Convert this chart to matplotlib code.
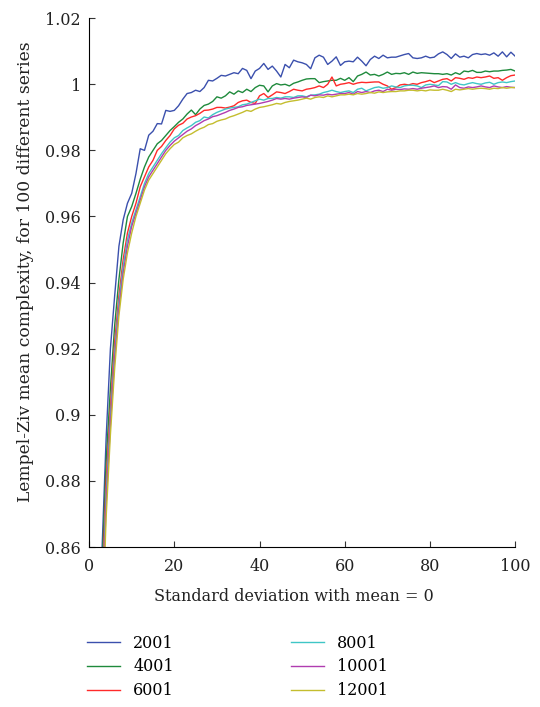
import matplotlib
matplotlib.use("Agg")
import matplotlib.pyplot as plt

# standard deviation (x) and mean LZ complexity for each series length
stdDev = list(range(3, 101))

labels = ["2001", "4001", "6001", "8001", "10001", "12001"]
colors = ["#3b50ad", "#1f8a3c", "#ff2a2a", "#3fc6c6", "#b03cb0", "#c4bd2e"]

lz2001 = [0.858, 0.893, 0.920, 0.936, 0.951, 0.959, 0.964, 0.967, 0.973, 0.9805,
          0.9800, 0.9846, 0.9858, 0.9881, 0.9880, 0.9921, 0.9918, 0.9921, 0.9935, 0.9955,
          0.9972, 0.9975, 0.9982, 0.9978, 0.9990, 1.0012, 1.0010, 1.0018, 1.0027, 1.0025,
          1.0030, 1.0035, 1.0032, 1.0048, 1.0042, 1.0017, 1.0040, 1.0048, 1.0063, 1.0045,
          1.0055, 1.0040, 1.0022, 1.0060, 1.0050, 1.0073, 1.0068, 1.0065, 1.0060, 1.0047,
          1.0080, 1.0088, 1.0082, 1.0060, 1.0070, 1.0083, 1.0057, 1.0068, 1.0070, 1.0068,
          1.0082, 1.0070, 1.0056, 1.0075, 1.0085, 1.0078, 1.0088, 1.0080, 1.0082, 1.0082,
          1.0086, 1.0090, 1.0093, 1.0080, 1.0078, 1.0080, 1.0085, 1.0080, 1.0082, 1.0092,
          1.0098, 1.0090, 1.0078, 1.0092, 1.0082, 1.0085, 1.0080, 1.0090, 1.0093, 1.0090,
          1.0092, 1.0088, 1.0095, 1.0085, 1.0098, 1.0083, 1.0097, 1.0085]

lz4001 = [0.852, 0.886, 0.908, 0.927, 0.941, 0.952, 0.960, 0.963, 0.967, 0.9713,
          0.9750, 0.9780, 0.9800, 0.9820, 0.9830, 0.9845, 0.9860, 0.9872, 0.9885, 0.9895,
          0.9910, 0.9922, 0.9908, 0.9925, 0.9936, 0.9940, 0.9948, 0.9962, 0.9958, 0.9965,
          0.9977, 0.9970, 0.9980, 0.9975, 0.9985, 0.9978, 0.9990, 0.9997, 0.9995, 0.9977,
          0.9995, 1.0002, 0.9998, 1.0000, 0.9995, 1.0003, 1.0007, 1.0012, 1.0016, 1.0017,
          1.0017, 1.0005, 1.0008, 1.0010, 1.0012, 1.0012, 1.0018, 1.0012, 1.0020, 1.0008,
          1.0025, 1.0030, 1.0037, 1.0028, 1.0030, 1.0025, 1.0030, 1.0037, 1.0030, 1.0033,
          1.0032, 1.0035, 1.0030, 1.0037, 1.0033, 1.0035, 1.0034, 1.0033, 1.0032, 1.0032,
          1.0030, 1.0032, 1.0028, 1.0035, 1.0030, 1.0040, 1.0038, 1.0042, 1.0036, 1.0036,
          1.0040, 1.0038, 1.0040, 1.0040, 1.0042, 1.0043, 1.0045, 1.0040]

lz6001 = [0.845, 0.880, 0.902, 0.922, 0.936, 0.947, 0.955, 0.960, 0.964, 0.969,
          0.972, 0.975, 0.977, 0.980, 0.9812, 0.9830, 0.9845, 0.9865, 0.9876, 0.9882,
          0.9895, 0.9901, 0.9905, 0.9912, 0.9921, 0.9922, 0.9925, 0.9930, 0.9930, 0.9928,
          0.9931, 0.9935, 0.9945, 0.9950, 0.9952, 0.9945, 0.9942, 0.9965, 0.9972, 0.9960,
          0.9968, 0.9977, 0.9975, 0.9972, 0.9978, 0.9985, 0.9982, 0.9980, 0.9985, 0.9987,
          0.9990, 0.9995, 0.9990, 1.0000, 1.0022, 0.9995, 1.0000, 1.0002, 1.0005, 1.0000,
          1.0004, 1.0006, 1.0005, 1.0006, 1.0007, 1.0007, 1.0000, 0.9995, 0.9985, 0.9990,
          0.9998, 1.0000, 0.9998, 1.0002, 1.0000, 1.0005, 1.0008, 1.0012, 1.0005, 1.0010,
          1.0015, 1.0017, 1.0010, 1.0020, 1.0018, 1.0015, 1.0020, 1.0018, 1.0022, 1.0020,
          1.0022, 1.0025, 1.0018, 1.0020, 1.0012, 1.0020, 1.0026, 1.0028]

lz8001 = [0.840, 0.876, 0.899, 0.919, 0.934, 0.945, 0.953, 0.958, 0.962, 0.966,
          0.970, 0.973, 0.975, 0.977, 0.979, 0.9808, 0.9825, 0.9838, 0.9845, 0.9860,
          0.9868, 0.9875, 0.9885, 0.9890, 0.9901, 0.9898, 0.9908, 0.9915, 0.9920, 0.9925,
          0.9928, 0.9930, 0.9932, 0.9938, 0.9940, 0.9945, 0.9950, 0.9955, 0.9952, 0.9957,
          0.9957, 0.9960, 0.9958, 0.9962, 0.9962, 0.9960, 0.9965, 0.9965, 0.9962, 0.9967,
          0.9968, 0.9970, 0.9975, 0.9978, 0.9982, 0.9978, 0.9975, 0.9978, 0.9980, 0.9975,
          0.9985, 0.9988, 0.9980, 0.9985, 0.9990, 0.9992, 0.9988, 0.9990, 0.9995, 0.9992,
          0.9990, 0.9995, 0.9997, 0.9997, 0.9995, 0.9990, 0.9998, 1.0000, 0.9998, 0.9996,
          1.0008, 1.0007, 1.0000, 1.0005, 1.0000, 0.9998, 1.0002, 1.0005, 1.0002, 1.0000,
          1.0004, 1.0006, 1.0000, 1.0005, 1.0007, 1.0005, 1.0008, 1.0010]

lz10001 = [0.836, 0.873, 0.897, 0.917, 0.932, 0.943, 0.951, 0.957, 0.961, 0.965,
           0.969, 0.972, 0.974, 0.976, 0.978, 0.9800, 0.9815, 0.9828, 0.9838, 0.9848,
           0.9858, 0.9865, 0.9875, 0.9882, 0.9890, 0.9895, 0.9902, 0.9905, 0.9910, 0.9915,
           0.9921, 0.9925, 0.9930, 0.9932, 0.9936, 0.9938, 0.9940, 0.9942, 0.9945, 0.9948,
           0.9952, 0.9957, 0.9955, 0.9957, 0.9955, 0.9958, 0.9960, 0.9962, 0.9960, 0.9967,
           0.9965, 0.9968, 0.9967, 0.9970, 0.9968, 0.9970, 0.9972, 0.9972, 0.9975, 0.9970,
           0.9978, 0.9975, 0.9978, 0.9975, 0.9980, 0.9982, 0.9978, 0.9985, 0.9982, 0.9985,
           0.9984, 0.9986, 0.9985, 0.9987, 0.9985, 0.9988, 0.9990, 0.9992, 0.9995, 0.9990,
           0.9993, 0.9992, 0.9985, 0.9998, 0.9990, 0.9988, 0.9992, 0.9990, 0.9992, 0.9995,
           0.9992, 0.9990, 0.9995, 0.9992, 0.9990, 0.9993, 0.9991, 0.9990]

lz12001 = [0.832, 0.869, 0.894, 0.914, 0.930, 0.941, 0.949, 0.955, 0.960, 0.964,
           0.968, 0.971, 0.973, 0.975, 0.977, 0.9790, 0.9805, 0.9818, 0.9825, 0.9838,
           0.9845, 0.9850, 0.9858, 0.9865, 0.9870, 0.9878, 0.9881, 0.9888, 0.9892, 0.9895,
           0.9901, 0.9905, 0.9910, 0.9915, 0.9921, 0.9918, 0.9925, 0.9930, 0.9932, 0.9935,
           0.9938, 0.9942, 0.9940, 0.9945, 0.9948, 0.9950, 0.9952, 0.9955, 0.9958, 0.9955,
           0.9960, 0.9962, 0.9960, 0.9965, 0.9962, 0.9965, 0.9968, 0.9968, 0.9970, 0.9968,
           0.9972, 0.9970, 0.9972, 0.9975, 0.9973, 0.9977, 0.9975, 0.9977, 0.9978, 0.9978,
           0.9980, 0.9980, 0.9982, 0.9982, 0.9980, 0.9982, 0.9980, 0.9983, 0.9982, 0.9982,
           0.9985, 0.9982, 0.9978, 0.9985, 0.9983, 0.9985, 0.9987, 0.9985, 0.9987, 0.9988,
           0.9987, 0.9985, 0.9988, 0.9987, 0.9990, 0.9988, 0.9990, 0.9990]

allSeries = [lz2001, lz4001, lz6001, lz8001, lz10001, lz12001]

plt.rcParams['font.family'] = ['DejaVu Serif']
plt.rcParams['font.size'] = 11.5

fig = plt.figure(figsize=(5.4, 7.07), dpi=100)
ax = fig.add_axes([0.165, 0.2263, 0.789, 0.748])

for serie, lab, col in zip(allSeries, labels, colors):
    ax.plot(stdDev, serie, color=col, linewidth=1.0, label=lab)

ax.set_xlim(0, 100)
ax.set_ylim(0.86, 1.02)
ax.set_xticks([0, 20, 40, 60, 80, 100])
ax.set_yticks([0.86, 0.88, 0.9, 0.92, 0.94, 0.96, 0.98, 1.0, 1.02])
ax.set_yticklabels(["0.86", "0.88", "0.9", "0.92", "0.94", "0.96", "0.98", "1", "1.02"])
ax.spines['top'].set_visible(False)
ax.spines['right'].set_visible(False)
ax.tick_params(direction='in', length=4, color='#333333', labelcolor='#222222')
ax.tick_params(axis='x', pad=8)
ax.tick_params(axis='y', pad=6)
ax.set_xlabel("Standard deviation with mean = 0", color='#222222', va='top')
ax.set_ylabel("Lempel-Ziv mean complexity, for 100 different series", color='#222222',
              va='center', fontsize=12.3)
ax.xaxis.set_label_coords(0.48, -0.077)
ax.yaxis.set_label_coords(-0.15, 0.52)

fig.legend(loc='upper left', bbox_to_anchor=(0.146, 0.1135), ncol=2, frameon=False,
           borderpad=0, handlelength=2.06, handletextpad=0.85, columnspacing=7.3,
           labelspacing=0.42, fontsize=11.5)

plt.savefig("out.png", dpi=100)
